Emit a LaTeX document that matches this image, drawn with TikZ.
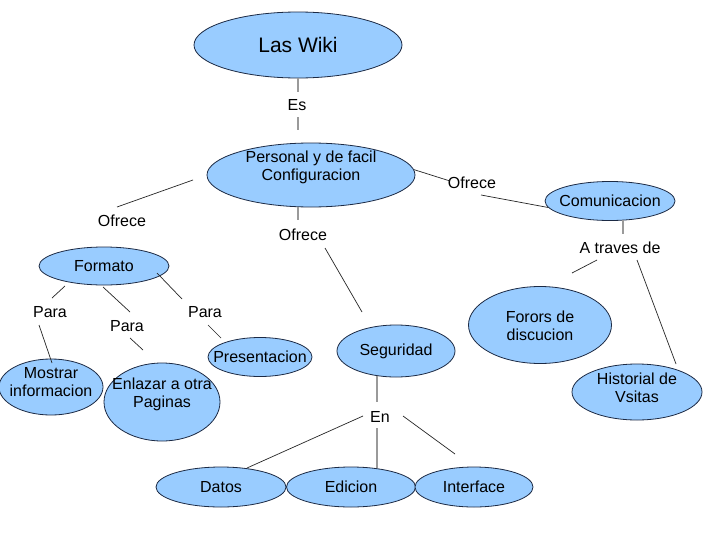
\documentclass[tikz,border=0pt]{standalone}
\usepackage{fontspec}
\setmainfont{Liberation Sans}
\usetikzlibrary{shapes.geometric}
\definecolor{ellblue}{HTML}{99CCFF}
\definecolor{ellline}{HTML}{1C2A44}
\definecolor{glinec}{HTML}{9A9A9A}
\begin{document}
\begin{tikzpicture}[x=1pt,y=-1pt,
  concept/.style={ellipse, draw=ellline, fill=ellblue, line width=0.8pt, inner sep=0pt},
  txt/.style={font=\fontsize{16}{18}\selectfont, align=center, inner sep=0pt, text=black},
  lbl/.style={font=\fontsize{16}{18}\selectfont, inner sep=0pt, text=black},
  link/.style={line width=0.7pt, draw=black!85},
  glink/.style={line width=1.6pt, draw=glinec}]
\useasboundingbox (0,0) rectangle (728,546);
\fill[white] (0,0) rectangle (728,546);

% concepts
\node[concept, minimum width=208pt, minimum height=66pt,
  label={[txt,font=\fontsize{21}{24}\selectfont]center:Las Wiki}] (lw) at (298,45) {};
\node[concept, minimum width=208pt, minimum height=64pt,
  label={[txt,yshift=8pt]center:Personal y de facil\\Configuracion}] (pers) at (311,175) {};
\node[concept, minimum width=130pt, minimum height=38pt,
  label={[txt]center:Formato}] (fmt) at (104,266) {};
\node[concept, minimum width=104pt, minimum height=56pt,
  label={[txt,yshift=5pt]center:Mostrar\\informacion}] (mos) at (51,387) {};
\node[concept, minimum width=116pt, minimum height=78pt,
  label={[txt,yshift=8pt]center:Enlazar a otra\\Paginas}] (enl) at (162,402) {};
\node[concept, minimum width=104pt, minimum height=39pt,
  label={[txt]center:Presentacion}] (pres) at (260,357) {};
\node[concept, minimum width=118pt, minimum height=52pt,
  label={[txt]center:Seguridad}] (seg) at (396,351) {};
\node[concept, minimum width=130pt, minimum height=40pt,
  label={[txt]center:Datos}] (dat) at (221,487) {};
\node[concept, minimum width=129pt, minimum height=40pt,
  label={[txt]center:Edicion}] (edi) at (351,487) {};
\node[concept, minimum width=118pt, minimum height=40pt,
  label={[txt]center:Interface}] (int) at (474,487) {};
\node[concept, minimum width=130pt, minimum height=39pt,
  label={[txt]center:Comunicacion}] (com) at (610,201) {};
\node[concept, minimum width=143pt, minimum height=77pt,
  label={[txt,yshift=-1pt]center:Forors de\\discucion}] (for) at (540,325) {};
\node[concept, minimum width=130pt, minimum height=56pt,
  label={[txt,yshift=4pt]center:Historial de\\Vsitas}] (his) at (637,392) {};

% link labels
\node[lbl] (es) at (297,105) {Es};
\node[lbl] (of1) at (303,235) {Ofrece};
\node[lbl] (of2) at (122,221) {Ofrece};
\node[lbl] (of3) at (472,183) {Ofrece};
\node[lbl] (p1) at (50,312) {Para};
\node[lbl] (p2) at (127,326) {Para};
\node[lbl] (p3) at (205,312) {Para};
\node[lbl] (en) at (380,417) {En};
\node[lbl] (atr) at (620,248) {A traves de};

% free ends
\coordinate (c1) at (298,92);
\coordinate (c2a) at (298,117);
\coordinate (c2b) at (298,130);
\coordinate (c3a) at (298,207);
\coordinate (c3) at (298,220);
\coordinate (c4a) at (325,248);
\coordinate (c4b) at (362,312);
\coordinate (c5a) at (193,180);
\coordinate (c5b) at (117,207);
\coordinate (c6) at (450,181);
\coordinate (c7) at (481,195);
\coordinate (c8a) at (623,220);
\coordinate (c8) at (623,234);
\coordinate (c9a) at (597,260);
\coordinate (c9b) at (572,273);
\coordinate (c10a) at (637,260);
\coordinate (c10b) at (676,364);
\coordinate (c11a) at (65,286);
\coordinate (c11b) at (52,298);
\coordinate (c12a) at (39,325);
\coordinate (c12b) at (52,363);
\coordinate (c13a) at (103,287);
\coordinate (c13b) at (130,312);
\coordinate (c14a) at (130,338);
\coordinate (c14b) at (143,350);
\coordinate (c15a) at (157,273);
\coordinate (c15b) at (182,299);
\coordinate (c16a) at (208,325);
\coordinate (c16b) at (221,338);
\coordinate (c17a) at (377,376);
\coordinate (c17) at (377,402);
\coordinate (c18a) at (377,428);
\coordinate (c18b) at (377,468);
\coordinate (c19a) at (363,416);
\coordinate (c19b) at (247,468);
\coordinate (c20a) at (403,416);
\coordinate (c20b) at (455,454);

% connectors
\draw[glink] (lw.south) -- (c1);
\draw[glink] (c2a) -- (c2b);
\draw[glink] (c3a) -- (c3);
\draw[link] (c4a) -- (c4b);
\draw[link] (c5a) -- (c5b);
\draw[link] (pers.3) -- (c6);
\draw[link] (c7) -- (com.186);
\draw[glink] (c8a) -- (c8);
\draw[link] (c9a) -- (c9b);
\draw[link] (c10a) -- (c10b);
\draw[link] (c11a) -- (c11b);
\draw[link] (c12a) -- (c12b);
\draw[link] (c13a) -- (c13b);
\draw[link] (c14a) -- (c14b);
\draw[link] (c15a) -- (c15b);
\draw[link] (c16a) -- (c16b);
\draw[glink] (c17a) -- (c17);
\draw[glink] (c18a) -- (c18b);
\draw[link] (c19a) -- (c19b);
\draw[link] (c20a) -- (c20b);
\end{tikzpicture}
\end{document}
